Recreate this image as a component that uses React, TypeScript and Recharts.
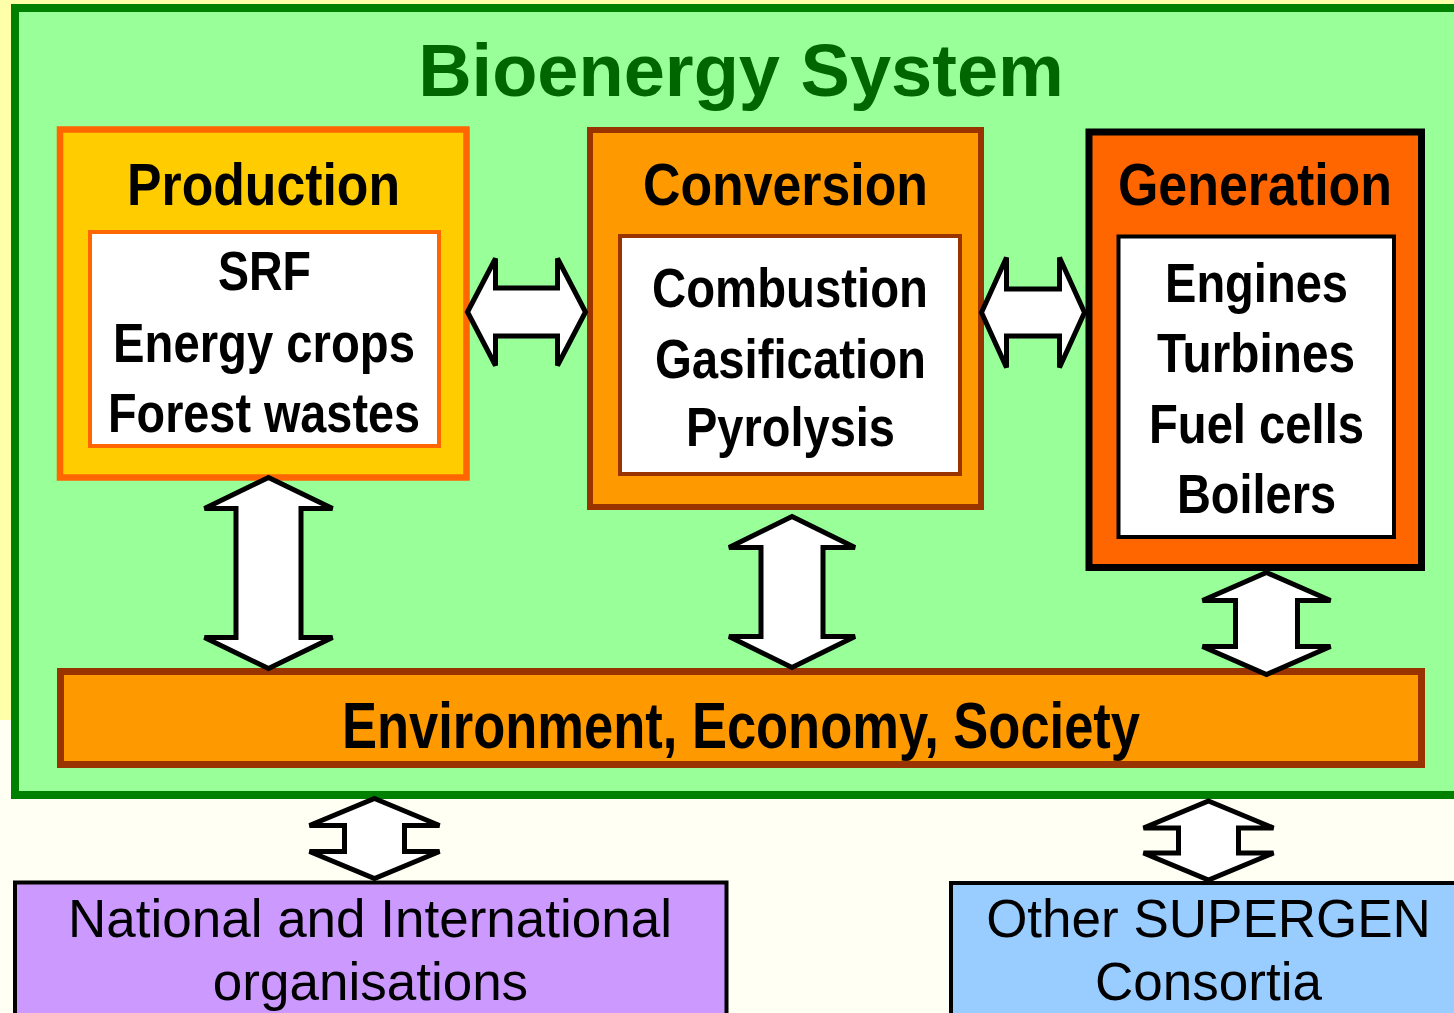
import React from 'react';
import { ScatterChart, Scatter, XAxis, YAxis, ReferenceArea } from 'recharts';

// ---------- content ----------
const TITLE = 'Bioenergy System';
const STAGES = ['Production', 'Conversion', 'Generation'];
const PRODUCTION_ITEMS = ['SRF', 'Energy crops', 'Forest wastes'];
const CONVERSION_ITEMS = ['Combustion', 'Gasification', 'Pyrolysis'];
const GENERATION_ITEMS = ['Engines', 'Turbines', 'Fuel cells', 'Boilers'];
const FOUNDATION = 'Environment, Economy, Society';
const PARTNER_LINES = [
  ['National and International', 'organisations'],
  ['Other SUPERGEN', 'Consortia'],
];
const LINKS = [
  ['Production', 'Conversion'],
  ['Conversion', 'Generation'],
  ['Production', 'Foundation'],
  ['Conversion', 'Foundation'],
  ['Generation', 'Foundation'],
  ['System', 'National'],
  ['System', 'SUPERGEN'],
];

// ---------- layout / style ----------
const W = 1454;
const H = 1013;
const NARROW = "'Liberation Sans Narrow', 'Arial Narrow', 'Liberation Sans', Arial, sans-serif";
const REGULAR = "'Liberation Sans', Arial, sans-serif";

const BOXES = [
  { x1: 0, y1: 0, x2: 1454, y2: 720, fill: '#FFFFAA', stroke: 'none', sw: 0 },
  { x1: 15, y1: 8, x2: 1470, y2: 795, fill: '#99FF99', stroke: '#008000', sw: 8 },
  { x1: 60, y1: 129.5, x2: 466.5, y2: 477.5, fill: '#FFCC00', stroke: '#FF6600', sw: 6.5 },
  { x1: 90, y1: 232, x2: 439, y2: 446, fill: '#FFFFFF', stroke: '#FF6600', sw: 4 },
  { x1: 590, y1: 130, x2: 981, y2: 507, fill: '#FF9900', stroke: '#993300', sw: 6 },
  { x1: 620, y1: 236, x2: 960, y2: 474, fill: '#FFFFFF', stroke: '#993300', sw: 4 },
  { x1: 1089, y1: 132, x2: 1421.5, y2: 567.5, fill: '#FF6600', stroke: '#000000', sw: 7 },
  { x1: 1118.5, y1: 236.5, x2: 1394, y2: 537, fill: '#FFFFFF', stroke: '#000000', sw: 4 },
  { x1: 60.5, y1: 671.5, x2: 1421.5, y2: 764.5, fill: '#FF9900', stroke: '#993300', sw: 7 },
  { x1: 15, y1: 882.5, x2: 726.5, y2: 1030, fill: '#CC99FF', stroke: '#000000', sw: 4 },
  { x1: 951, y1: 883, x2: 1470, y2: 1030, fill: '#99CCFF', stroke: '#000000', sw: 4 },
];

// arrow geometry per link (center, half-length, head length, head half-width, shaft half-width)
const ARROW_GEOM = [
  { x: 526.5, y: 312, dir: 'h', L: 59, h: 28, hw: 53.5, s: 24 },
  { x: 1033, y: 312.5, dir: 'h', L: 51.5, h: 25, hw: 55, s: 23.5 },
  { x: 268.5, y: 573, dir: 'v', L: 95.5, h: 31, hw: 64, s: 32.5 },
  { x: 792, y: 592, dir: 'v', L: 75.5, h: 31, hw: 63, s: 31 },
  { x: 1266.5, y: 623.5, dir: 'v', L: 51, h: 28, hw: 64, s: 31 },
  { x: 374.5, y: 838.5, dir: 'v', L: 40, h: 27, hw: 65, s: 30 },
  { x: 1208.5, y: 840.5, dir: 'v', L: 39.5, h: 27, hw: 65, s: 30 },
];

const arrowData = LINKS.map((link, i) => ({ link: link.join('-'), ...ARROW_GEOM[i] }));

// text placement
const HEADER_POS = [
  { x: 263.5, y: 205, len: 273 },
  { x: 785.5, y: 205, len: 285 },
  { x: 1255, y: 205, len: 274 },
];
const ITEM_POS = [
  [
    { x: 264.5, y: 290, len: 93 },
    { x: 264, y: 362, len: 302 },
    { x: 264, y: 432, len: 312 },
  ],
  [
    { x: 790, y: 307, len: 276 },
    { x: 790.5, y: 378, len: 271 },
    { x: 790.5, y: 446, len: 209 },
  ],
  [
    { x: 1256.5, y: 302, len: 183 },
    { x: 1256, y: 372, len: 198 },
    { x: 1256.5, y: 443, len: 215 },
    { x: 1256.5, y: 513, len: 159 },
  ],
];
const PARTNER_POS = [
  [{ x: 370, y: 937 }, { x: 370.5, y: 1000 }],
  [{ x: 1208.5, y: 937 }, { x: 1208.5, y: 1000 }],
];

const itemLists = [PRODUCTION_ITEMS, CONVERSION_ITEMS, GENERATION_ITEMS];

const textData: any[] = [];
textData.push({ text: TITLE, x: 741, y: 96, size: 74, weight: 'bold', family: REGULAR, color: '#006600' });
STAGES.forEach((s, i) => {
  const p = HEADER_POS[i];
  textData.push({ text: s, x: p.x, y: p.y, size: 60, weight: 'bold', family: NARROW, color: '#000', len: p.len });
  itemLists[i].forEach((t, j) => {
    const q = ITEM_POS[i][j];
    textData.push({ text: t, x: q.x, y: q.y, size: 56, weight: 'bold', family: NARROW, color: '#000', len: q.len });
  });
});
textData.push({ text: FOUNDATION, x: 741, y: 748, size: 64, weight: 'bold', family: NARROW, color: '#000', len: 798 });
PARTNER_LINES.forEach((lines, i) => {
  lines.forEach((t, j) => {
    const p = PARTNER_POS[i][j];
    textData.push({ text: t, x: p.x, y: p.y, size: 53, weight: 'normal', family: REGULAR, color: '#000' });
  });
});

const ArrowShape = (props: any) => {
  const { cx, cy, payload } = props;
  if (cx == null || cy == null) return null;
  const { L, h, hw, s, dir } = payload;
  let pts: number[][];
  if (dir === 'v') {
    pts = [
      [0, -L], [hw, -L + h], [s, -L + h], [s, L - h], [hw, L - h],
      [0, L], [-hw, L - h], [-s, L - h], [-s, -L + h], [-hw, -L + h],
    ];
  } else {
    pts = [
      [-L, 0], [-L + h, -hw], [-L + h, -s], [L - h, -s], [L - h, -hw],
      [L, 0], [L - h, hw], [L - h, s], [-L + h, s], [-L + h, hw],
    ];
  }
  const d = pts.map(([dx, dy]) => `${cx + dx},${cy + dy}`).join(' ');
  return <polygon points={d} fill="#FFFFFF" stroke="#000000" strokeWidth={5} strokeLinejoin="miter" />;
};

const TextShape = (props: any) => {
  const { cx, cy, payload } = props;
  if (cx == null || cy == null) return null;
  const extra: any = {};
  if (payload.len) {
    extra.textLength = payload.len;
    extra.lengthAdjust = 'spacingAndGlyphs';
  }
  return (
    <text
      x={cx}
      y={cy}
      textAnchor="middle"
      fontFamily={payload.family}
      fontWeight={payload.weight}
      fontSize={payload.size}
      fill={payload.color}
      {...extra}
    >
      {payload.text}
    </text>
  );
};

export default function App() {
  return (
    <div
      style={{
        position: 'absolute',
        left: 0,
        top: 0,
        width: W,
        height: H,
        background: '#FFFFF4',
        overflow: 'hidden',
      }}
    >
      <ScatterChart width={W} height={H} margin={{ top: 0, right: 0, bottom: 0, left: 0 }}>
        <XAxis type="number" dataKey="x" domain={[0, W]} hide allowDataOverflow />
        <YAxis type="number" dataKey="y" domain={[0, H]} hide reversed allowDataOverflow />
        {BOXES.map((b, i) => (
          <ReferenceArea
            key={i}
            x1={b.x1}
            x2={b.x2}
            y1={b.y1}
            y2={b.y2}
            fill={b.fill}
            fillOpacity={1}
            stroke={b.stroke}
            strokeWidth={b.sw}
            strokeOpacity={1}
            ifOverflow="visible"
          />
        ))}
        <Scatter data={arrowData} shape={ArrowShape} isAnimationActive={false} />
        <Scatter data={textData} shape={TextShape} isAnimationActive={false} />
      </ScatterChart>
    </div>
  );
}
